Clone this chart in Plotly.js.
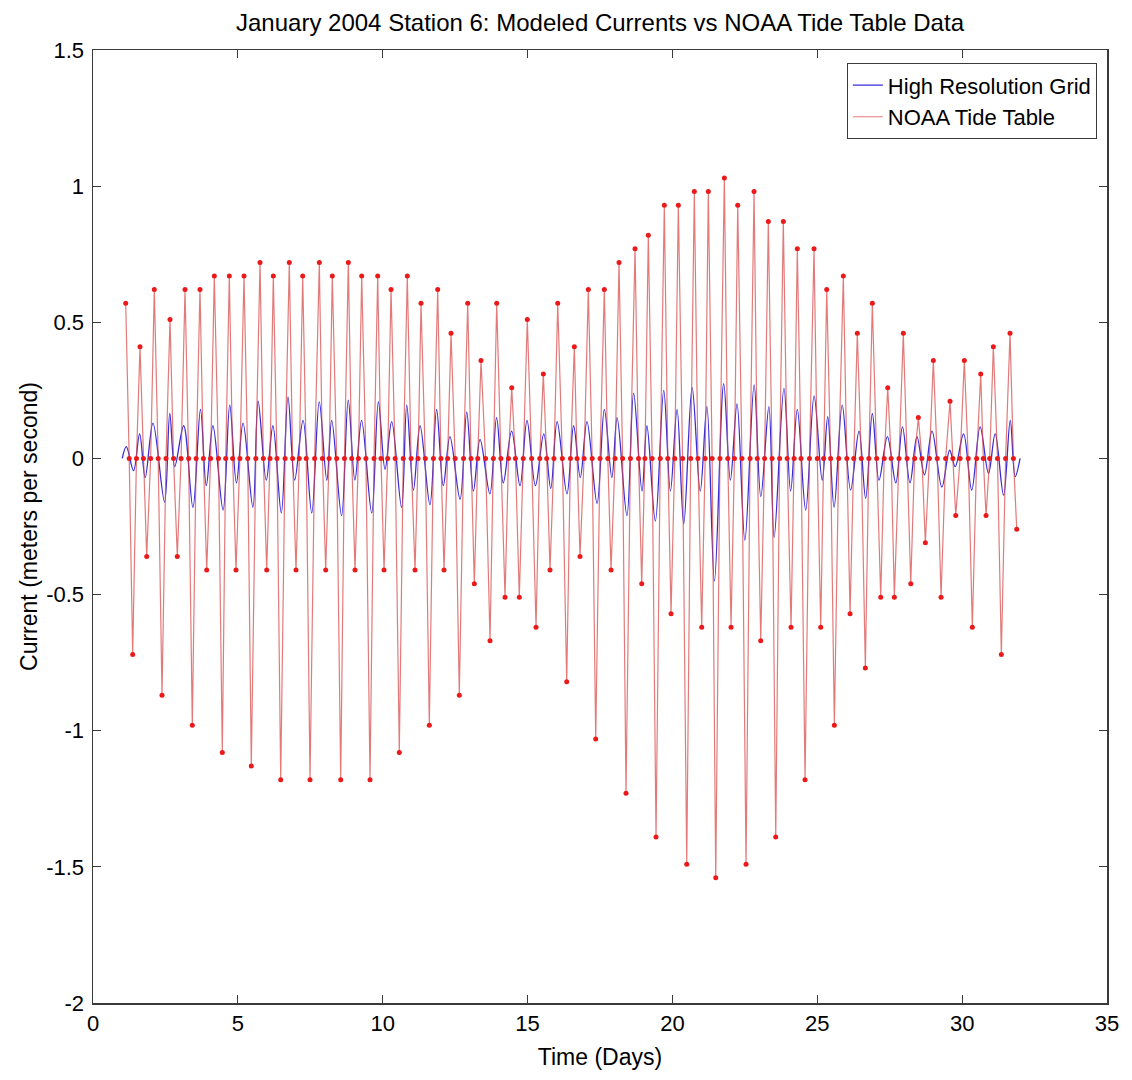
<!DOCTYPE html>
<html>
<head>
<meta charset="utf-8">
<script src="https://cdn.plot.ly/plotly-3.0.1.min.js"></script>
<style>
  html, body { margin: 0; padding: 0; background: #fff; }
  #chart { width: 1132px; height: 1080px; }
</style>
</head>
<body>
<div id="chart"></div>
<script>
// ---- NOAA tide table: maximum flood (positive) events ----
const floodDays = [1.129,1.622,2.116,2.658,3.176,3.693,4.187,4.705,5.212,5.765,6.224,6.776,7.238,7.812,8.260,8.813,9.275,9.827,10.287,10.849,11.322,11.898,12.358,12.934,13.393,13.935,14.453,14.991,15.544,16.041,16.614,17.097,17.649,18.157,18.709,19.168,19.720,20.204,20.756,21.239,21.792,22.254,22.817,23.310,23.828,24.311,24.888,25.326,25.899,26.382,26.900,27.432,27.970,28.488,29.006,29.582,30.076,30.642,31.077,31.653];
const floodSpeed = [0.57,0.41,0.62,0.51,0.62,0.62,0.67,0.67,0.67,0.72,0.67,0.72,0.67,0.72,0.67,0.72,0.67,0.67,0.62,0.67,0.57,0.62,0.46,0.57,0.36,0.57,0.26,0.51,0.31,0.57,0.41,0.62,0.62,0.72,0.77,0.82,0.93,0.93,0.98,0.98,1.03,0.93,0.98,0.87,0.87,0.77,0.77,0.62,0.67,0.46,0.57,0.26,0.46,0.15,0.36,0.21,0.36,0.31,0.41,0.46];

// ---- NOAA tide table: maximum ebb (negative) events ----
const ebbDays = [1.370,1.854,2.382,2.910,3.428,3.925,4.463,4.936,5.464,5.996,6.479,7.007,7.490,8.032,8.550,9.044,9.562,10.045,10.573,11.115,11.609,12.116,12.644,13.162,13.704,14.222,14.715,15.292,15.775,16.351,16.810,17.352,17.881,18.398,18.940,19.434,19.952,20.494,21.011,21.495,22.023,22.541,23.048,23.566,24.094,24.577,25.119,25.589,26.131,26.659,27.190,27.660,28.226,28.730,29.272,29.779,30.352,30.825,31.353,31.885];
const ebbSpeed = [-0.72,-0.36,-0.87,-0.36,-0.98,-0.41,-1.08,-0.41,-1.13,-0.41,-1.18,-0.41,-1.18,-0.41,-1.18,-0.41,-1.18,-0.41,-1.08,-0.41,-0.98,-0.41,-0.87,-0.46,-0.67,-0.51,-0.51,-0.62,-0.41,-0.82,-0.36,-1.03,-0.41,-1.23,-0.46,-1.39,-0.57,-1.49,-0.62,-1.54,-0.62,-1.49,-0.67,-1.39,-0.62,-1.18,-0.62,-0.98,-0.57,-0.77,-0.51,-0.51,-0.46,-0.31,-0.51,-0.21,-0.62,-0.21,-0.72,-0.26];

// ---- NOAA tide table: slack water events (speed 0) ----
const slackDays = [1.25,1.50,1.74,1.99,2.25,2.52,2.78,3.04,3.30,3.56,3.81,4.06,4.33,4.58,4.82,5.07,5.34,5.62,5.88,6.11,6.35,6.63,6.89,7.12,7.36,7.65,7.92,8.15,8.41,8.68,8.93,9.16,9.42,9.70,9.94,10.17,10.43,10.71,10.98,11.22,11.47,11.75,12.01,12.24,12.50,12.79,13.05,13.28,13.55,13.82,14.08,14.34,14.58,14.85,15.14,15.42,15.66,15.91,16.20,16.48,16.71,16.95,17.23,17.50,17.77,18.02,18.28,18.55,18.83,19.05,19.30,19.58,19.84,20.08,20.35,20.63,20.88,21.13,21.37,21.64,21.91,22.14,22.40,22.68,22.93,23.18,23.44,23.70,23.96,24.20,24.44,24.73,25.00,25.22,25.46,25.74,26.02,26.26,26.52,26.78,27.05,27.31,27.55,27.82,28.10,28.36,28.61,28.87,29.14,29.43,29.68,29.93,30.21,30.50,30.73,30.95,31.22,31.50,31.77];

// ---- High Resolution Grid model: turning points of the modeled current ----
const modelDays = [1.01,1.15,1.40,1.61,1.80,2.07,2.47,2.65,2.82,3.13,3.45,3.71,3.91,4.14,4.49,4.72,4.95,5.18,5.52,5.70,5.98,6.21,6.50,6.73,6.96,7.25,7.55,7.81,8.07,8.24,8.58,8.81,9.04,9.27,9.62,9.85,10.08,10.31,10.65,10.83,11.06,11.29,11.63,11.86,12.09,12.32,12.67,12.90,13.13,13.36,13.70,13.93,14.16,14.45,14.74,14.98,15.27,15.56,15.80,16.02,16.36,16.59,16.82,17.05,17.40,17.65,17.91,18.09,18.43,18.66,18.95,19.12,19.41,19.70,19.93,20.16,20.39,20.68,20.96,21.19,21.45,21.77,22.00,22.23,22.50,22.82,23.05,23.33,23.51,23.85,24.08,24.31,24.60,24.89,25.17,25.36,25.58,25.86,26.15,26.44,26.67,26.90,27.13,27.42,27.71,27.94,28.20,28.44,28.70,28.96,29.30,29.57,29.76,30.05,30.33,30.62,30.91,31.14,31.43,31.66,31.83,32.00];
const modelSpeed = [0,0.043,-0.045,0.09,-0.07,0.13,-0.16,0.165,-0.03,0.12,-0.18,0.18,-0.10,0.12,-0.19,0.196,-0.09,0.13,-0.18,0.21,-0.08,0.12,-0.20,0.226,-0.08,0.14,-0.20,0.208,-0.08,0.14,-0.21,0.214,-0.08,0.14,-0.20,0.208,-0.04,0.135,-0.18,0.196,-0.116,0.12,-0.17,0.18,-0.10,0.08,-0.15,0.17,-0.12,0.07,-0.13,0.15,-0.09,0.10,-0.10,0.14,-0.10,0.09,-0.11,0.135,-0.13,0.12,-0.07,0.135,-0.165,0.18,-0.07,0.15,-0.21,0.24,-0.12,0.12,-0.23,0.25,-0.12,0.18,-0.24,0.26,-0.12,0.19,-0.45,0.275,-0.08,0.20,-0.30,0.27,-0.14,0.19,-0.29,0.257,-0.12,0.18,-0.19,0.23,-0.08,0.153,-0.18,0.196,-0.116,0.10,-0.147,0.165,-0.08,0.08,-0.09,0.116,-0.09,0.08,-0.06,0.10,-0.105,0.03,-0.03,0.09,-0.116,0.116,-0.055,0.09,-0.135,0.14,-0.067,0];

// ---- axis ticks ----
const xTicks = [0,5,10,15,20,25,30,35];
const yTicks = [-2,-1.5,-1,-0.5,0,0.5,1,1.5];
const yTickText = ['-2','-1.5','-1','-0.5','0','0.5','1','1.5'];

// Build the NOAA event sequence (flood, slack, ebb, slack, ...) ordered in time
const events = [];
floodDays.forEach((d, i) => events.push([d, floodSpeed[i]]));
ebbDays.forEach((d, i) => events.push([d, ebbSpeed[i]]));
slackDays.forEach(d => events.push([d, 0]));
events.sort((a, b) => a[0] - b[0]);
const noaaX = events.map(e => e[0]);
const noaaY = events.map(e => e[1]);

const FONT = 'Liberation Sans, Arial, Helvetica, sans-serif';

const traces = [
  {
    x: modelDays, y: modelSpeed, type: 'scatter', mode: 'lines',
    name: 'High Resolution Grid',
    line: { color: 'rgb(55,45,215)', width: 1.3, shape: 'spline', smoothing: 1 }
  },
  {
    x: noaaX, y: noaaY, type: 'scatter', mode: 'lines',
    name: 'NOAA Tide Table',
    line: { color: 'rgba(215,70,70,0.72)', width: 1.2 }
  },
  {
    x: noaaX, y: noaaY, type: 'scatter', mode: 'markers',
    showlegend: false, hoverinfo: 'skip',
    marker: { color: 'rgb(235,25,25)', size: 5 }
  }
];

const axisCommon = {
  showgrid: false, zeroline: false,
  showline: true, linecolor: '#3a3a3a', linewidth: 1.5,
  mirror: 'ticks', ticks: 'inside', ticklen: 8, tickwidth: 1, tickcolor: '#3a3a3a',
  tickfont: { family: FONT, size: 22, color: '#000' },
  fixedrange: true
};

const layout = {
  width: 1132, height: 1080,
  margin: { l: 93, r: 25, t: 50, b: 77 },
  paper_bgcolor: '#fff', plot_bgcolor: '#fff',
  font: { family: FONT, color: '#000' },
  title: {
    text: 'January 2004 Station 6: Modeled Currents vs NOAA Tide Table Data',
    font: { family: FONT, size: 24, color: '#000' },
    xref: 'paper', x: 0.5, xanchor: 'center',
    yref: 'container', y: 0.979, yanchor: 'middle'
  },
  xaxis: Object.assign({}, axisCommon, {
    range: [0, 35], tickmode: 'array', tickvals: xTicks, ticktext: xTicks.map(String),
    title: { text: 'Time (Days)', font: { family: FONT, size: 23, color: '#000' }, standoff: 14 }
  }),
  yaxis: Object.assign({}, axisCommon, {
    range: [-2, 1.5], tickmode: 'array', tickvals: yTicks, ticktext: yTickText,
    ticklabelstandoff: 3,
    title: { text: 'Current (meters per second)', font: { family: FONT, size: 23, color: '#000' }, standoff: 2 }
  }),
  legend: {
    x: 0.99, xanchor: 'right', y: 0.986, yanchor: 'top',
    bgcolor: '#fff', bordercolor: '#3a3a3a', borderwidth: 1,
    font: { family: FONT, size: 22, color: '#000' },
    tracegroupgap: 0
  },
  showlegend: true
};

Plotly.newPlot('chart', traces, layout, { displayModeBar: false, staticPlot: true });
</script>
</body>
</html>
